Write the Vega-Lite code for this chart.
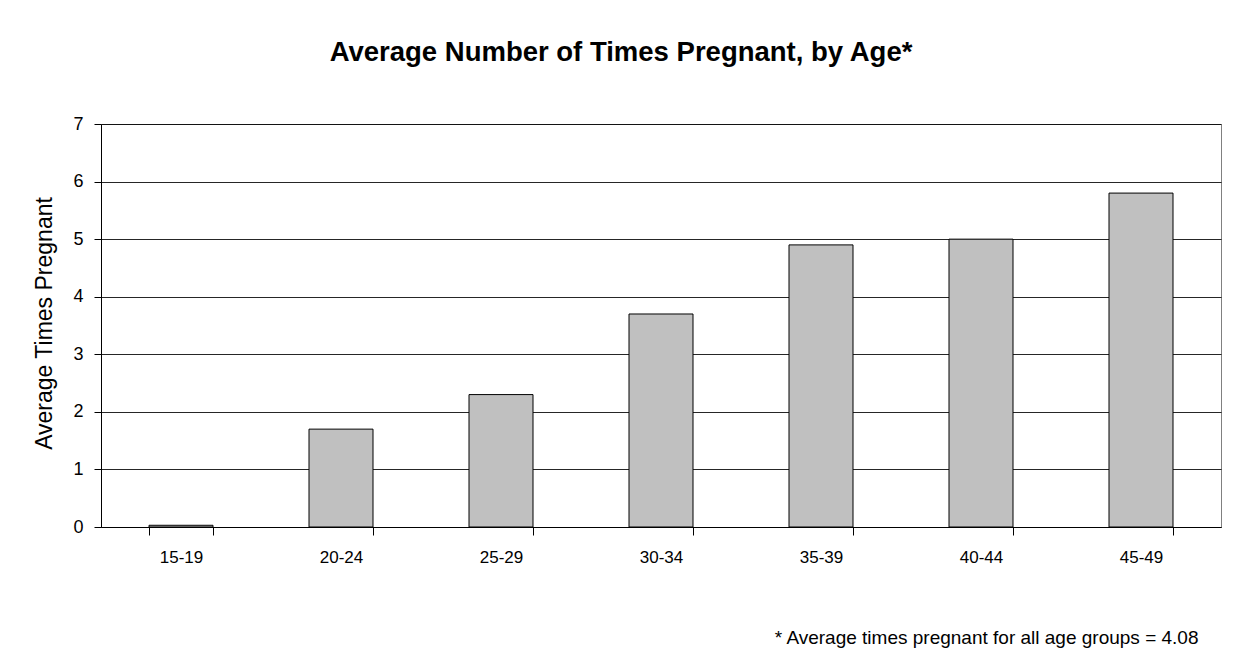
{
  "$schema": "https://vega.github.io/schema/vega-lite/v6.json",
  "width": 1120,
  "height": 403,
  "autosize": "none",
  "padding": {"left": 101, "top": 124, "right": 18, "bottom": 140},
  "background": "white",
  "title": {
    "text": "Average Number of Times Pregnant, by Age*",
    "font": "Liberation Sans",
    "fontSize": 27.5,
    "fontWeight": "bold",
    "color": "#000",
    "anchor": "middle",
    "baseline": "alphabetic",
    "dx": -40,
    "offset": 27
  },
  "data": {
    "values": [
      {"age": "15-19", "avg": 0.03},
      {"age": "20-24", "avg": 1.7},
      {"age": "25-29", "avg": 2.3},
      {"age": "30-34", "avg": 3.7},
      {"age": "35-39", "avg": 4.9},
      {"age": "40-44", "avg": 5.0},
      {"age": "45-49", "avg": 5.8}
    ]
  },
  "mark": {"type": "bar", "fill": "#c0c0c0", "stroke": "#000", "strokeWidth": 1},
  "encoding": {
    "x": {
      "field": "age",
      "type": "nominal",
      "sort": null,
      "scale": {"paddingInner": 0.6, "paddingOuter": 0.3},
      "axis": {
        "title": "* Average times pregnant for all age groups = 4.08",
        "labelAngle": 0,
        "tickBand": "extent",
        "tickSize": 8,
        "labelBaseline": "alphabetic",
        "labelPadding": 27,
        "labelFontSize": 17,
        "titleFontSize": 19,
        "titleAlign": "right",
        "titleAnchor": null,
        "titleBaseline": "alphabetic",
        "titleX": 1097,
        "titleY": 116
      }
    },
    "y": {
      "field": "avg",
      "type": "quantitative",
      "scale": {"domain": [0, 7], "nice": false},
      "axis": {
        "values": [0, 1, 2, 3, 4, 5, 6, 7],
        "title": "Average Times Pregnant",
        "tickSize": 7,
        "labelPadding": 11,
        "labelFontSize": 18,
        "titleFontSize": 23,
        "grid": true,
        "gridColor": "#000",
        "gridOpacity": 0.85,
        "titleAngle": -90,
        "titleAlign": "center",
        "titleBaseline": "middle",
        "titleX": -57,
        "titleY": 199
      }
    }
  },
  "config": {
    "view": {"stroke": "#808080", "strokeWidth": 1},
    "axis": {
      "labelFont": "Liberation Sans",
      "labelColor": "#000",
      "titleFont": "Liberation Sans",
      "titleFontWeight": "normal",
      "titleColor": "#000",
      "domainColor": "#000",
      "tickColor": "#000",
      "labelOverlap": false
    }
  }
}
